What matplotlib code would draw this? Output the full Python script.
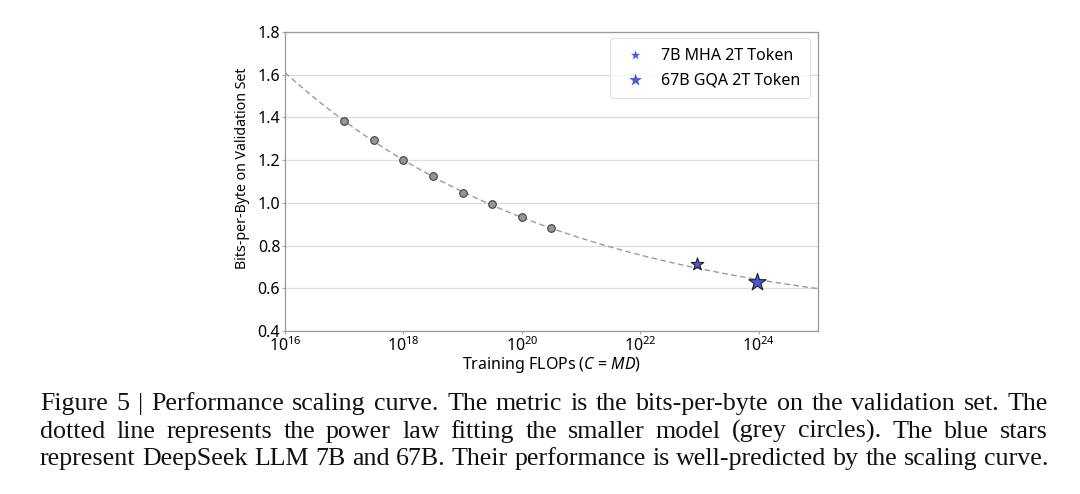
import numpy as np
import matplotlib
matplotlib.use("Agg")
import matplotlib.pyplot as plt

# ---- data ----
small_flops = [1e17, 3.16e17, 1e18, 3.16e18, 1e19, 3.16e19, 1e20, 3.16e20]
small_bpb = [1.385, 1.294, 1.202, 1.127, 1.048, 0.993, 0.932, 0.884]
flops_7b = [8.9e22]
bpb_7b = [0.716]
flops_67b = [9.3e23]
bpb_67b = [0.629]
# power-law fit parameters: L = E + A * (C / C0) ** (-alpha)
fit_E = 0.42
fit_A = 1.19
fit_alpha = 0.0916
fit_C0 = 1e16
x_range = (1e16, 1e25)
y_range = (0.4, 1.8)
y_ticks = [0.4, 0.6, 0.8, 1.0, 1.2, 1.4, 1.6, 1.8]
x_ticks = [1e16, 1e18, 1e20, 1e22, 1e24]
legend_labels = ["7B MHA 2T Token", "67B GQA 2T Token"]
caption_lines = [
    "Figure 5 | Performance scaling curve. The metric is the bits-per-byte on the validation set. The",
    "dotted line represents the power law fitting the smaller model (grey circles).  The blue stars",
    "represent DeepSeek LLM 7B and 67B. Their performance is well-predicted by the scaling curve.",
]

W, H = 1080, 494
plt.rcParams['font.family'] = ['Noto Sans', 'DejaVu Sans']
plt.rcParams['mathtext.fontset'] = 'custom'
plt.rcParams['mathtext.rm'] = 'Noto Sans'
plt.rcParams['mathtext.it'] = 'Noto Sans:italic'
plt.rcParams['mathtext.bf'] = 'Noto Sans:bold'
fig = plt.figure(figsize=(W / 100, H / 100), dpi=100)
ax = fig.add_axes([285 / W, 1 - 331 / H, (818 - 285) / W, (331 - 32) / H])

cx = np.logspace(np.log10(x_range[0]), np.log10(x_range[1]), 400)
cy = fit_E + fit_A * (cx / fit_C0) ** (-fit_alpha)
ax.plot(cx, cy, linestyle=(0, (4, 2.5)), color='#9a9a9a', linewidth=1.0, zorder=2)
ax.scatter(small_flops, small_bpb, s=30, color='#959595', edgecolor='#404040',
           linewidth=0.8, zorder=3)
ax.scatter(flops_7b, bpb_7b, s=90, marker='*', color='#4a5ae0', edgecolor='#202020',
           linewidth=0.8, zorder=4, label=legend_labels[0])
ax.scatter(flops_67b, bpb_67b, s=170, marker='*', color='#4a5ae0', edgecolor='#202020',
           linewidth=0.8, zorder=4, label=legend_labels[1])

ax.set_xscale('log')
ax.set_xlim(*x_range)
ax.set_ylim(*y_range)
ax.set_xticks(x_ticks)
ax.minorticks_off()
ax.set_yticks(y_ticks)
ax.set_yticklabels([f"{v:.1f}" for v in y_ticks])
ax.tick_params(axis='both', labelsize=11.5, length=2, color='#aaaaaa', pad=1.5)
ax.grid(axis='y', color='#dddddd', linewidth=0.9)
ax.set_axisbelow(True)
for s in ax.spines.values():
    s.set_color('#999999')
    s.set_linewidth(0.9)
ax.set_ylabel("Bits-per-Byte on Validation Set", fontsize=10.2)
ax.yaxis.set_label_coords(-0.066, 0.545)
ax.set_xlabel("Training FLOPs ($C$ = $MD$)", fontsize=11.5, labelpad=0.5)
leg = ax.legend(loc='upper right', fontsize=11.5, frameon=True, borderpad=0.6,
                handletextpad=0.6, labelspacing=0.55, scatterpoints=1, markerscale=0.75,
                borderaxespad=0, bbox_to_anchor=(0.985, 0.98))
leg.get_frame().set_edgecolor('#dddddd')
leg.get_frame().set_linewidth(0.8)
for h in leg.legend_handles:
    h.set_edgecolor('none')

# ---- justified caption ----
renderer = fig.canvas.get_renderer()
left_px, right_px = 40, 1048
baselines = [410, 438, 465]
cap_font = dict(family=['Liberation Serif', 'DejaVu Serif'], color='#111111')

def width_of(s, size):
    t = fig.text(0, 0, s, fontsize=size, **cap_font)
    w = t.get_window_extent(renderer).width
    t.remove()
    return w

base_size = 19.0
nat = max(width_of(l, base_size) for l in caption_lines)
size = min(base_size, base_size * (right_px - left_px) / nat)
for line, yb in zip(caption_lines, baselines):
    words = line.split()
    widths = [width_of(wd, size) for wd in words]
    gap = (right_px - left_px - sum(widths)) / (len(words) - 1)
    x = left_px
    for wd, w in zip(words, widths):
        fig.text(x / W, 1 - yb / H, wd, fontsize=size, va='baseline', ha='left', **cap_font)
        x += w + gap

fig.savefig("out.png", dpi=100)
